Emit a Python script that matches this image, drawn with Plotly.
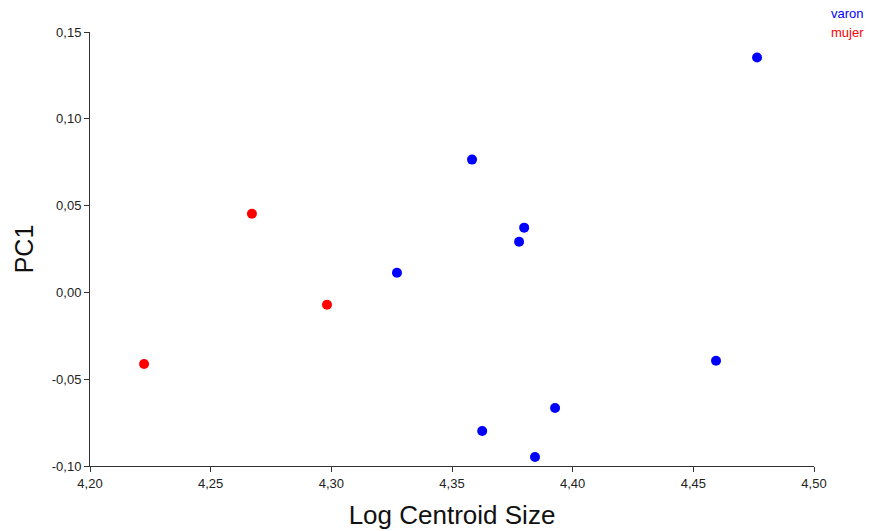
import plotly.graph_objects as go

# Data
varon_x = [4.3272, 4.3583, 4.3778, 4.3799, 4.3625, 4.3844, 4.3927, 4.4594, 4.4764]
varon_y = [0.0113, 0.0765, 0.0292, 0.0373, -0.0798, -0.0948, -0.0666, -0.0394, 0.1353]
mujer_x = [4.2224, 4.2671, 4.2982]
mujer_y = [-0.0412, 0.0453, -0.0071]

x_ticks = [4.20, 4.25, 4.30, 4.35, 4.40, 4.45, 4.50]
x_labels = ["4,20", "4,25", "4,30", "4,35", "4,40", "4,45", "4,50"]
y_ticks = [-0.10, -0.05, 0.00, 0.05, 0.10, 0.15]
y_labels = ["-0,10", "-0,05", "0,00", "0,05", "0,10", "0,15"]

font_family = "Liberation Sans, Arial, sans-serif"

fig = go.Figure()
fig.add_trace(go.Scatter(x=varon_x, y=varon_y, mode="markers", name="varon",
                         marker=dict(color="#0000ff", size=10, line=dict(width=0)),
                         cliponaxis=False, showlegend=False))
fig.add_trace(go.Scatter(x=mujer_x, y=mujer_y, mode="markers", name="mujer",
                         marker=dict(color="#ff0000", size=10, line=dict(width=0)),
                         cliponaxis=False, showlegend=False))

fig.add_annotation(text="varon", x=1.021, y=1.042, xref="paper", yref="paper",
                   xanchor="left", yanchor="middle", showarrow=False,
                   font=dict(color="#0000ff", size=13, family=font_family))
fig.add_annotation(text="mujer", x=1.021, y=0.998, xref="paper", yref="paper",
                   xanchor="left", yanchor="middle", showarrow=False,
                   font=dict(color="#ff0000", size=13, family=font_family))

fig.update_layout(
    width=869, height=531,
    margin=dict(l=90, r=55, t=32, b=65),
    paper_bgcolor="white", plot_bgcolor="white",
    font=dict(family=font_family, color="#222222"),
    xaxis=dict(range=[4.20, 4.50], tickvals=x_ticks, ticktext=x_labels,
               automargin=False,
               showgrid=False, zeroline=False, showline=True, linecolor="#333333",
               linewidth=1, ticks="outside", ticklen=5, tickcolor="#333333",
               tickfont=dict(size=13, color="#222222"),
               title=dict(text="Log Centroid Size", font=dict(size=26, color="#111111"),
                          standoff=16)),
    yaxis=dict(range=[-0.10, 0.15], tickvals=y_ticks, ticktext=y_labels,
               automargin=False,
               showgrid=False, zeroline=False, showline=True, linecolor="#333333",
               linewidth=1, ticks="outside", ticklen=5, tickcolor="#333333",
               tickfont=dict(size=13, color="#222222"),
               title=dict(text="PC1", font=dict(size=25, color="#111111"),
                          standoff=11)),
)

fig.write_html("out.html",
               config={"displayModeBar": False},
               post_script="document.body.style.margin='0';document.body.style.overflow='hidden';")
